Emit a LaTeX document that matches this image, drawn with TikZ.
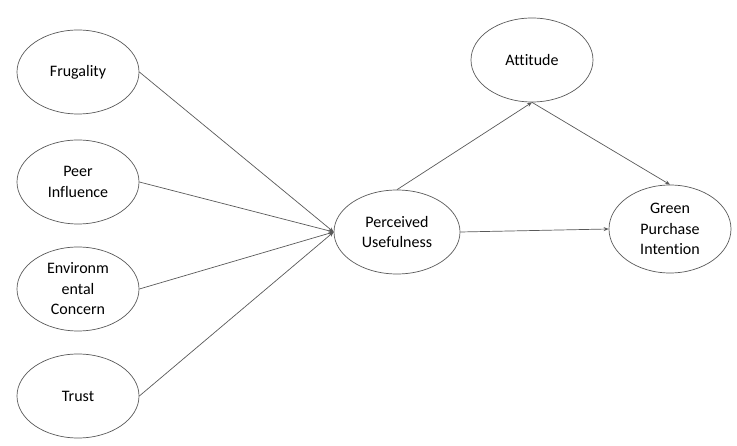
\documentclass[tikz,border=0pt]{standalone}
\usepackage{fontspec}
\setmainfont{Carlito}[Ligatures=NoCommon]
\usetikzlibrary{shapes.geometric,arrows.meta}
\begin{document}
\begin{tikzpicture}[x=1pt,y=1pt,
  var/.style={ellipse, draw=black!65, line width=0.7pt, inner sep=0pt,
    minimum width=122pt, minimum height=84pt, align=center,
    text=black, font=\fontsize{16}{20.5}\selectfont},
  link/.style={draw=black!65, line width=0.7pt},
  arr/.style={link, -{Stealth[length=5pt,width=4pt]}}]
\useasboundingbox (0,0) rectangle (737,-446);
\node[var] (fru) at (78,-72) {Frugality};
\node[var] (peer) at (78,-182) {Peer\\Influence};
\node[var] (env) at (78,-289) {Environm\\ental\\Concern};
\node[var] (tru) at (78,-396) {Trust};
\node[var, minimum width=126pt] (pu) at (397,-232) {Perceived\\Usefulness};
\node[var] (att) at (532,-60) {Attitude};
\node[var, minimum height=88pt] (gpi) at (670,-229) {Green\\Purchase\\Intention};
\draw[arr] (fru.east) -- (pu.west);
\draw[arr] (peer.east) -- (pu.west);
\draw[arr] (env.east) -- (pu.west);
\draw[arr] (tru.east) -- (pu.west);
\draw[arr] (pu.north) -- (att.south);
\draw[arr] (att.south) -- (gpi.north);
\draw[arr] (pu.east) -- (gpi.west);
\end{tikzpicture}
\end{document}
